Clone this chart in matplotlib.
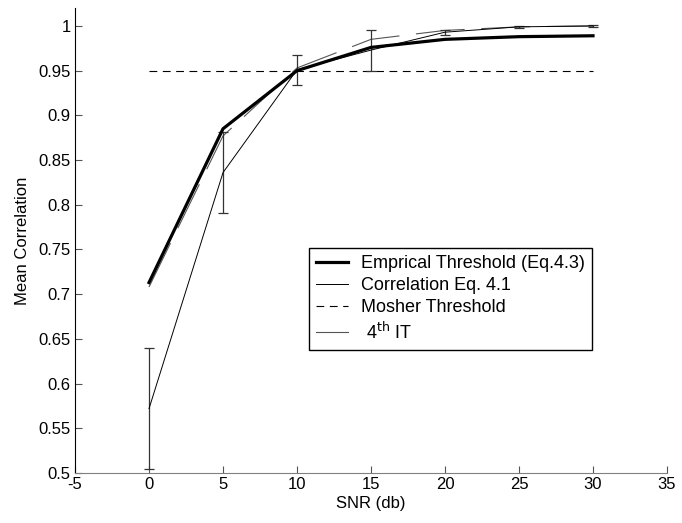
import numpy as np
import matplotlib
matplotlib.use("Agg")
from matplotlib import pyplot as plt
from matplotlib.lines import Line2D

# datos
snr = [0, 5, 10, 15, 20, 25, 30]
empirical = [0.713, 0.885, 0.950, 0.976, 0.985, 0.988, 0.989]
correlation = [0.572, 0.836, 0.951, 0.973, 0.993, 0.999, 1.000]
correlation_err = [0.068, 0.045, 0.017, 0.023, 0.003, 0.001, 0.001]
fourth_it = [0.708, 0.877, 0.953, 0.985, 0.995, 0.999, 1.000]
mosher = 0.95

plt.rcParams['font.family'] = ['Liberation Sans', 'DejaVu Sans']
plt.rcParams['font.size'] = 12
plt.rcParams['axes.unicode_minus'] = False

fig = plt.figure(figsize=(6.82, 5.23), dpi=100)
ax = fig.add_axes([0.110, 0.0956, 0.868, 0.889])

ax.plot(snr, empirical, color='black', lw=2.3, zorder=4)
ax.errorbar(snr, correlation, yerr=correlation_err, color='black', lw=0.7,
            ecolor='#333333', elinewidth=0.9, capsize=3.5, capthick=0.9, zorder=3)
ax.plot([snr[0], snr[-1]], [mosher, mosher], color='black', lw=0.8,
        linestyle=(0, (7, 5)), zorder=2)
ax.plot(snr, fourth_it, color='#555555', lw=0.8, linestyle=(0, (44, 15)), zorder=2)

ax.set_xlim(-5, 35)
ax.set_ylim(0.5, 1.02)
ax.set_xticks(np.arange(-5, 36, 5))
ax.set_yticks(np.arange(0.5, 1.001, 0.05))
ax.set_yticklabels(['0.5', '0.55', '0.6', '0.65', '0.7', '0.75', '0.8', '0.85', '0.9', '0.95', '1'])

ax.spines['top'].set_visible(False)
ax.spines['right'].set_visible(False)
ax.spines['left'].set_color('black')
ax.spines['bottom'].set_color('#808080')
ax.tick_params(direction='in', length=5, width=0.8, color='#555555', pad=3)

ax.set_xlabel('SNR (db)', labelpad=3)
ax.set_ylabel('Mean Correlation', labelpad=6)

# manijas de la leyenda como lineas simples
handles = [Line2D([], [], color='black', lw=2.3),
           Line2D([], [], color='black', lw=0.7),
           Line2D([], [], color='black', lw=0.8, linestyle=(0, (7, 5))),
           Line2D([], [], color='#555555', lw=0.8)]
labels = ['Emprical Threshold (Eq.4.3)', 'Correlation Eq. 4.1', 'Mosher Threshold', ' 4$^{\\rm th}$ IT']
leg = ax.legend(handles, labels, loc='upper left', bbox_to_anchor=(309 / 682, 1 - 248 / 523),
                bbox_transform=fig.transFigure, borderaxespad=0, fancybox=False,
                edgecolor='black', framealpha=1, handlelength=1.75, handletextpad=0.75,
                labelspacing=0.28, borderpad=0.4, fontsize=13)
leg.get_frame().set_linewidth(1.0)

plt.savefig('out.png', dpi=100)
